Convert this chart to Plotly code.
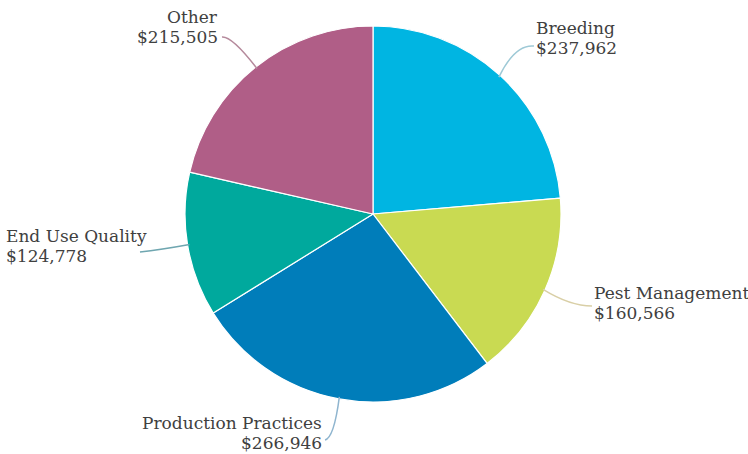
import math
import plotly.graph_objects as go

categories = ["Breeding", "Pest Management", "Production Practices", "End Use Quality", "Other"]
values = [237962, 160566, 266946, 124778, 215505]
colors = ["#00b5e2", "#c9da52", "#007dba", "#00a99d", "#b05e87"]
line_colors = ["#9ec9d6", "#d9cfa6", "#8fb5cf", "#6fa6b0", "#b58a9c"]

W, H = 748, 454
CX, CY, R = 373, 214, 188
LINE_GAP = 20
PAD = 3

# label layout: (x px, y px of first line centre, anchor, line end px, control px)
label_layout = {
    "Breeding": (537, 28, "left", (534, 46), (515, 44)),
    "Pest Management": (595, 293, "left", (592, 306), (570, 306)),
    "Production Practices": (321, 423, "right", (325, 440), (334, 438)),
    "End Use Quality": (7, 236, "left", (140, 252), (160, 250)),
    "Other": (217, 17, "right", (222, 37), (232, 36)),
}

def px(x):
    return x / W

def py(y):
    return 1 - y / H

fig = go.Figure(go.Pie(
    labels=categories,
    values=values,
    sort=False,
    direction="clockwise",
    rotation=0,
    marker=dict(colors=colors, line=dict(color="white", width=1.2)),
    textinfo="none",
    hoverinfo="label+value",
    showlegend=False,
    domain=dict(x=[px(CX - R), px(CX + R)], y=[py(CY + R), py(CY - R)]),
))

total = sum(values)
cum = 0
annotations = []
shapes = []
for cat, val, lc in zip(categories, values, line_colors):
    mid = (cum + val / 2) / total * 2 * math.pi
    cum += val
    sx = CX + (R - 2) * math.sin(mid)
    sy = CY - (R - 2) * math.cos(mid)
    lx, ly, anchor, (ex, ey), (qx, qy) = label_layout[cat]
    shapes.append(dict(
        type="path", xref="paper", yref="paper",
        path=f"M {px(sx)},{py(sy)} Q {px(qx)},{py(qy)} {px(ex)},{py(ey)}",
        line=dict(color=lc, width=1.5),
    ))
    ax = lx - PAD if anchor == "left" else lx + PAD
    for i, line in enumerate([cat, f"${val:,}"]):
        annotations.append(dict(
            x=px(ax), y=py(ly + i * LINE_GAP), xref="paper", yref="paper",
            xanchor=anchor, yanchor="middle", align=anchor,
            text=line, showarrow=False,
            font=dict(family="DejaVu Serif", size=17, color="#404040"),
        ))

fig.update_layout(
    width=W, height=H,
    margin=dict(l=0, r=0, t=0, b=0),
    paper_bgcolor="white",
    plot_bgcolor="white",
    annotations=annotations,
    shapes=shapes,
)

fig.write_html(
    "out.html",
    config={"displayModeBar": False},
    post_script="document.body.style.margin='0';document.body.style.overflow='hidden';",
)
